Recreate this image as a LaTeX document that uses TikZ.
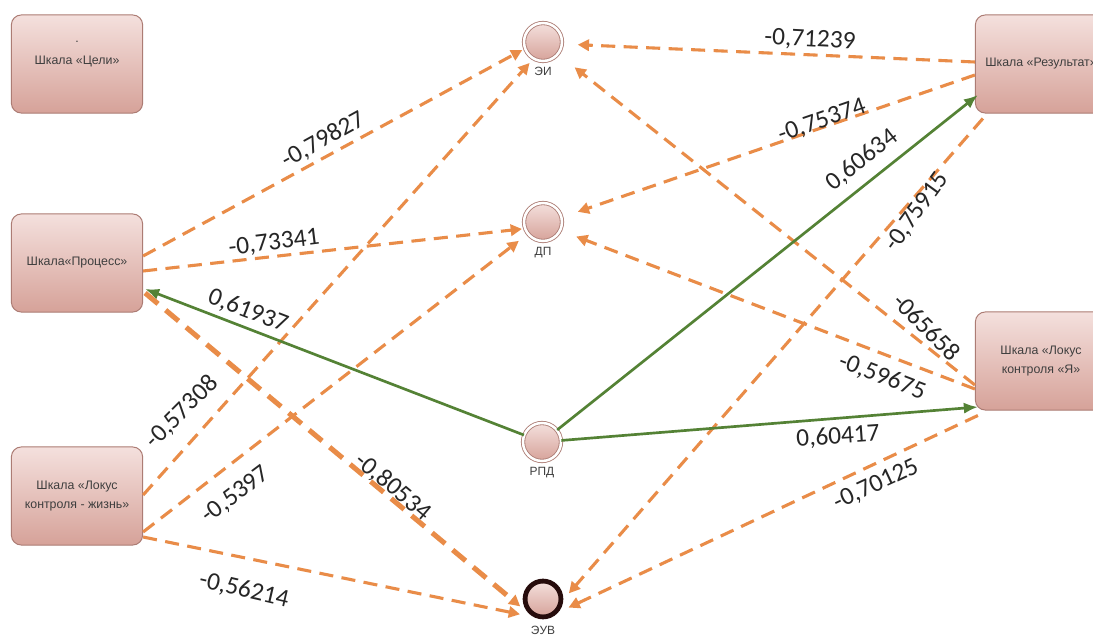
\documentclass[tikz,border=0pt]{standalone}
\usepackage{fontspec}
\setmainfont{Liberation Sans}
\newfontfamily\numfont{Carlito}
\usetikzlibrary{calc,arrows.meta}

\definecolor{boxtop}{RGB}{244,224,221}
\definecolor{boxbot}{RGB}{214,162,153}
\definecolor{boxline}{RGB}{172,124,116}
\definecolor{dashorange}{RGB}{233,140,72}
\definecolor{linkgreen}{RGB}{84,130,53}
\definecolor{ringdark}{RGB}{38,12,12}
\definecolor{txtgray}{RGB}{62,62,62}

\tikzset{
  scalebox/.style={rectangle, rounded corners=7pt, draw=boxline, line width=0.7pt,
    top color=boxtop, bottom color=boxbot, minimum width=3.28cm, minimum height=2.45cm,
    align=center, text=txtgray, font=\fontsize{8.8}{13}\selectfont},
  ring/.style={circle, draw=boxline, line width=0.6pt, double=white, double distance=1.8pt,
    top color=boxtop, bottom color=boxbot, minimum size=27pt, inner sep=0pt},
  boldring/.style={circle, draw=ringdark, line width=3.4pt,
    top color=boxtop, bottom color=boxbot, minimum size=25.5pt, inner sep=0pt},
  sub/.style={text=txtgray, font=\fontsize{8.5}{10}\selectfont, label distance=0.5pt},
  neg/.style={draw=dashorange, line width=2.2pt, dash pattern=on 10pt off 6pt,
    -{Triangle[length=8pt,width=8pt]}},
  negbold/.style={neg, line width=3.6pt, dash pattern=on 12pt off 7pt},
  posline/.style={draw=linkgreen, line width=1.9pt, -{Latex[length=10pt,width=8pt]}},
  weight/.style={font=\numfont\fontsize{18}{20}\selectfont, text=black!85, inner sep=0pt}
}

\begin{document}
\begin{tikzpicture}[x=0.025cm, y=-0.025cm]
  \useasboundingbox[fill=white] (0,0) rectangle (1093,636);

  % scales
  \node[scalebox] (goal) at (77,64) {.\\[3pt]Шкала «Цели»\\[3pt]\mbox{}};
  \node[scalebox] (proc) at (77,263) {Шкала«Процесс»};
  \node[scalebox] (life) at (77,496) {Шкала «Локус\\контроля - жизнь»};
  \node[scalebox] (res) at (1041,64) {Шкала «Результат»};
  \node[scalebox] (self) at (1041,361) {Шкала «Локус\\контроля «Я»};

  % factors
  \node[ring, label={[sub]below:ЭИ}] (ei) at (543,42) {};
  \node[ring, label={[sub]below:ДП}] (dp) at (543,222) {};
  \node[ring, label={[sub]below:РПД}] (rpd) at (542,442) {};
  \node[boldring, label={[sub, label distance=1pt]below:ЭУВ}] (euv) at (543,599) {};

  % negative links
  \draw[neg, shorten >=2pt] ($(proc.east)+(0,-7)$) -- (ei.200);
  \draw[neg, shorten >=2pt] ($(proc.east)+(0,8)$) -- (dp.200);
  \draw[negbold, shorten >=10pt] ($(proc.east)+(2,30)$) -- (euv.234);
  \draw[neg, shorten >=4pt] ($(life.east)+(0,-1)$) -- (ei.240);
  \draw[neg, shorten >=8pt] ($(life.east)+(0,36)$) -- (dp.218);
  \draw[neg, shorten >=10pt] ($(life.east)+(0,41)$) -- (euv.243);
  \draw[neg, shorten >=11pt] ($(res.west)+(0,-2)$) -- (ei.-6);
  \draw[neg, shorten >=12pt] ($(res.west)+(0,11)$) -- (dp.14);
  \draw[neg, shorten >=6pt] ($(res.south west)+(8,5)$) -- (euv.-2);
  \draw[neg, shorten >=15pt] ($(self.west)+(0,24)$) -- (ei.-39);
  \draw[neg, shorten >=12pt] ($(self.west)+(0,28)$) -- (dp.-26);
  \draw[neg, shorten >=8pt] ($(self.south west)+(3,5)$) -- (euv.-41);

  % positive links
  \draw[posline] (rpd) -- ($(proc.east)+(2,26)$);
  \draw[posline] (rpd) -- ($(res.west)+(3,31)$);
  \draw[posline] (rpd) -- ($(self.west)+(3,46)$);

  % weights
  \node[weight, rotate=29] (w1) at (323,140) {-0,79827};
  \node[weight, rotate=7] (w2) at (274,243) {-0,73341};
  \node[weight, rotate=-21] (w3) at (248,311) {0,61937};
  \node[weight, rotate=-40] (w4) at (393,487) {-0,80534};
  \node[weight, rotate=45] (w5) at (182,412) {-0,57308};
  \node[weight, rotate=37] (w6) at (236,495) {-0,5397};
  \node[weight, rotate=-13] (w7) at (244,590) {-0,56214};
  \node[weight, rotate=-3] (w8) at (810,40) {-0,71239};
  \node[weight, rotate=19] (w9) at (822,121) {-0,75374};
  \node[weight, rotate=38] (w10) at (862,160) {0,60634};
  \node[weight, rotate=54] (w11) at (917,212) {-0,75915};
  \node[weight, rotate=-45] (w12) at (927,327) {-065658};
  \node[weight, rotate=-21] (w13) at (882,377) {-0,59675};
  \node[weight, rotate=4] (w14) at (838,437) {0,60417};
  \node[weight, rotate=25] (w15) at (876,485) {-0,70125};
\end{tikzpicture}
\end{document}
